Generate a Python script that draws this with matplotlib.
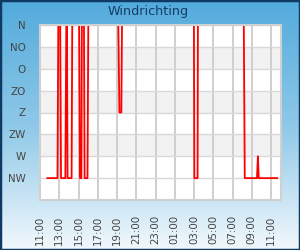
import numpy as np
import pandas as pd
import matplotlib
matplotlib.use("Agg")
import matplotlib.pyplot as plt
import matplotlib.dates as mdates
from matplotlib.patches import Rectangle

# compass labels, top to bottom
directions = ["N", "NO", "O", "ZO", "Z", "ZW", "W", "NW"]

# wind direction readings (time, direction)
times = [
    "2024-05-01 11:46", "2024-05-01 12:49", "2024-05-01 12:54", "2024-05-01 13:06",
    "2024-05-01 13:11", "2024-05-01 13:38", "2024-05-01 13:44", "2024-05-01 13:48",
    "2024-05-01 13:52", "2024-05-01 14:17", "2024-05-01 14:21", "2024-05-01 15:04",
    "2024-05-01 15:09", "2024-05-01 15:18", "2024-05-01 15:21", "2024-05-01 15:34",
    "2024-05-01 15:38", "2024-05-01 15:56", "2024-05-01 16:01", "2024-05-01 19:08",
    "2024-05-01 19:15", "2024-05-01 19:27", "2024-05-01 19:31", "2024-05-02 02:59",
    "2024-05-02 03:02", "2024-05-02 03:22", "2024-05-02 03:24", "2024-05-02 08:10",
    "2024-05-02 08:16", "2024-05-02 09:32", "2024-05-02 09:38", "2024-05-02 09:43",
    "2024-05-02 11:38",
]
wind = [
    "NW", "NW", "N", "N",
    "NW", "NW", "N", "N",
    "NW", "NW", "N", "N",
    "NW", "NW", "N", "N",
    "NW", "NW", "N", "N",
    "Z", "Z", "N", "N",
    "NW", "NW", "N", "N",
    "NW", "NW", "W", "NW",
    "NW",
]

t = pd.to_datetime(times)
y = [directions.index(d) for d in wind]

fig = plt.figure(figsize=(3, 2.5), dpi=100)

# blue gradient background
bg = fig.add_axes([0, 0, 1, 1], zorder=0)
grad = np.linspace(0, 1, 256).reshape(-1, 1)
cmap = matplotlib.colors.LinearSegmentedColormap.from_list(
    "bg", ["#52abdc", "#8ec8e8", "#f2f8fc"])
bg.imshow(grad, aspect="auto", cmap=cmap, extent=[0, 1, 0, 1])
bg.set_axis_off()
fig.patches.append(Rectangle((0, 0), 1, 1, transform=fig.transFigure,
                             fill=False, edgecolor="#0e3a63", linewidth=2.5))

ax = fig.add_axes([0.1333, 0.2, 0.8024, 0.7], zorder=1)
ax.set_facecolor("white")
for lo in (1, 3, 5):
    ax.axhspan(lo, lo + 1, color="#f2f2f2", zorder=0.2, linewidth=0)

ax.plot(t, y, color="red", linewidth=1.3, zorder=2)

ax.set_ylim(8, 0)
ax.set_yticks(range(len(directions)))
ax.set_yticklabels(directions)
ax.set_xlim(pd.Timestamp("2024-05-01 11:00"), pd.Timestamp("2024-05-02 12:00"))
ax.xaxis.set_major_locator(mdates.HourLocator(byhour=range(1, 24, 2)))
ax.xaxis.set_major_formatter(mdates.DateFormatter("%H:%M"))
plt.setp(ax.get_xticklabels(), rotation=90)

ax.set_axisbelow(True)
ax.grid(axis="y", color="#d8d8d8", linewidth=1)
ax.grid(axis="x", color="#cccccc", linewidth=1.3)
ax.tick_params(length=0, labelsize=7.4, colors="#444444")
ax.tick_params(axis="y", pad=10)
ax.tick_params(axis="x", pad=11)
for s in ax.spines.values():
    s.set_color("#d0d0d0")
    s.set_linewidth(1.5)

fig.text(0.495, 0.953, "Windrichting", ha="center", va="center",
         fontsize=9.2, color="#163c66")

fig.savefig("out.png", dpi=100)
